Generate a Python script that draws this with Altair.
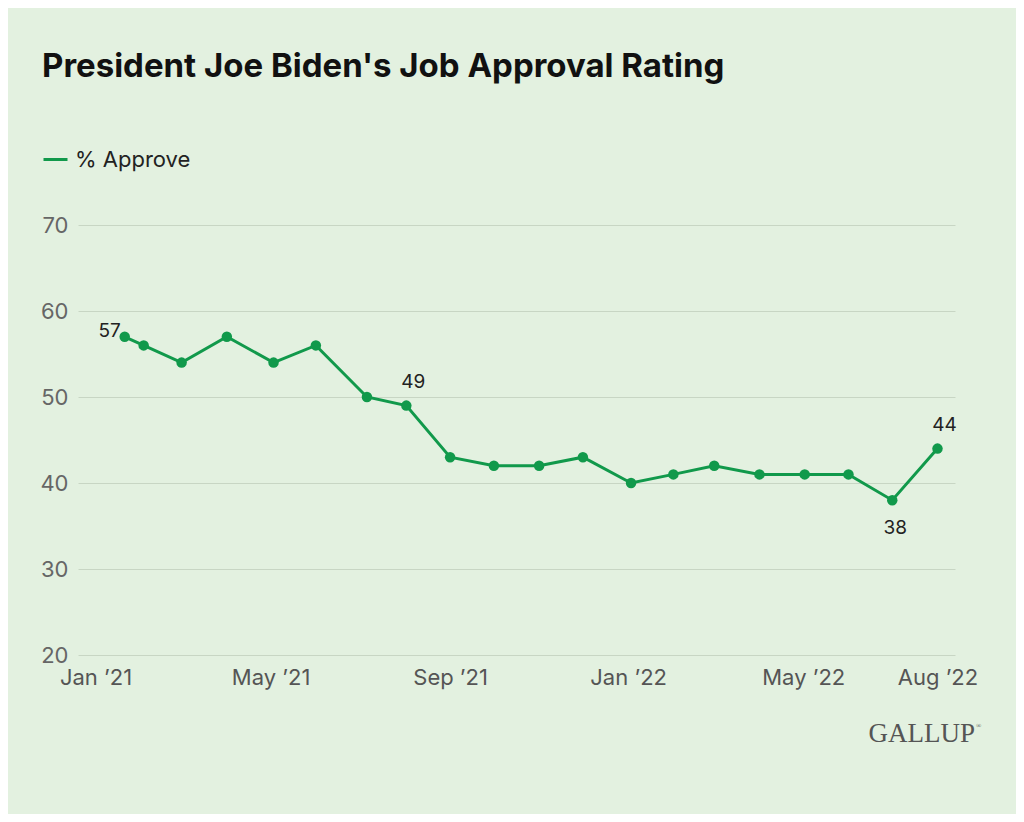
import altair as alt
import pandas as pd

dates = ["2021-01-21", "2021-02-03", "2021-03-01", "2021-04-01", "2021-05-03",
         "2021-06-01", "2021-07-06", "2021-08-02", "2021-09-01", "2021-10-01",
         "2021-11-01", "2021-12-01", "2022-01-03", "2022-02-01", "2022-03-01",
         "2022-04-01", "2022-05-02", "2022-06-01", "2022-07-01", "2022-08-01"]
approve = [57, 56, 54, 57, 54, 56, 50, 49, 43, 42, 42, 43, 40, 41, 42, 41, 41, 41, 38, 44]
series_name = "% Approve"
tick_dates = ["2021-01-01", "2021-05-01", "2021-09-01", "2022-01-01", "2022-05-01", "2022-08-01"]
y_ticks = [20, 30, 40, 50, 60, 70]
label_left = ["2021-01-21"]
label_above = ["2021-08-02", "2022-08-01"]
label_below = ["2022-07-01"]


def placement(d):
    if d in label_left:
        return "left"
    if d in label_above:
        return "above"
    if d in label_below:
        return "below"
    return "none"


df = pd.DataFrame({"date": dates, "value": approve, "series": series_name,
                   "place": [placement(d) for d in dates]})

GREEN = "#11994b"
BG = "#e3f1e0"
FONT = "Inter"


def dt(s):
    y, m, d = (int(p) for p in s.split("-"))
    return alt.DateTime(year=y, month=m, date=d, utc=True)


xscale = alt.Scale(type="utc", domain=[dt("2020-12-20"), dt("2022-08-13")])
yscale = alt.Scale(domain=[20, 70])

x_enc = alt.X("date:T", scale=xscale, title=None,
              axis=alt.Axis(values=[dt(t) for t in tick_dates],
                            labelExpr="utcFormat(datum.value, '%b \u2019%y')",
                            grid=False, domain=False, ticks=False,
                            labelFontSize=22, labelColor="#555555", labelFont=FONT,
                            labelPadding=12, labelFlush=False))
y_enc = alt.Y("value:Q", scale=yscale, title=None,
              axis=alt.Axis(values=y_ticks, grid=True, gridColor="#c8d6c4", gridWidth=1,
                            domain=False, ticks=False, labelFontSize=22,
                            labelColor="#666666", labelFont=FONT, labelPadding=10))

base = alt.Chart(df)

line = base.mark_line(strokeWidth=3).encode(
    x=x_enc, y=y_enc,
    color=alt.Color("series:N", scale=alt.Scale(range=[GREEN]), title=None,
                    legend=alt.Legend(orient="none", legendX=-36, legendY=-79,
                                      symbolType="stroke", symbolStrokeWidth=3,
                                      symbolSize=576, labelFontSize=22,
                                      labelColor="#222222", labelFont=FONT,
                                      labelOffset=6)))

points = base.mark_point(filled=True, opacity=1, size=110, color=GREEN).encode(
    x="date:T", y="value:Q")

txt_style = dict(fontSize=19, font=FONT, color="#222222")

lab_left = base.transform_filter(alt.datum.place == "left").mark_text(
    align="right", baseline="middle", dx=-4, dy=-6, **txt_style).encode(
    x="date:T", y="value:Q", text="value:Q")

lab_above = base.transform_filter(alt.datum.place == "above").mark_text(
    align="center", baseline="middle", dx=7, dy=-24, **txt_style).encode(
    x="date:T", y="value:Q", text="value:Q")

lab_below = base.transform_filter(alt.datum.place == "below").mark_text(
    align="center", baseline="middle", dx=3, dy=28, **txt_style).encode(
    x="date:T", y="value:Q", text="value:Q")

title = alt.Chart(pd.DataFrame({"t": ["President Joe Biden's Job Approval Rating"]})).mark_text(
    align="left", baseline="alphabetic", fontSize=33, fontWeight="bold", font=FONT,
    color="#111111").encode(x=alt.value(-36), y=alt.value(-148), text="t:N")

logo = alt.Chart(pd.DataFrame({"t": ["GALLUP"]})).mark_text(
    align="right", baseline="alphabetic", fontSize=27, font="Liberation Serif",
    color="#555555").encode(x=alt.value(897), y=alt.value(517), text="t:N")

reg = alt.Chart(pd.DataFrame({"t": ["\u00ae"]})).mark_text(
    align="left", baseline="alphabetic", fontSize=7, font="Liberation Serif",
    color="#555555").encode(x=alt.value(898), y=alt.value(503), text="t:N")

chart = alt.layer(line, points, lab_left, lab_above, lab_below, title, logo, reg).properties(
    width=877, height=430,
    autosize=alt.AutoSizeParams(type="none"),
    padding={"left": 70, "top": 217, "right": 61, "bottom": 159},
    background=BG,
).configure_view(stroke=None)

chart.save("out.html", embed_options={"renderer": "svg", "actions": False})
